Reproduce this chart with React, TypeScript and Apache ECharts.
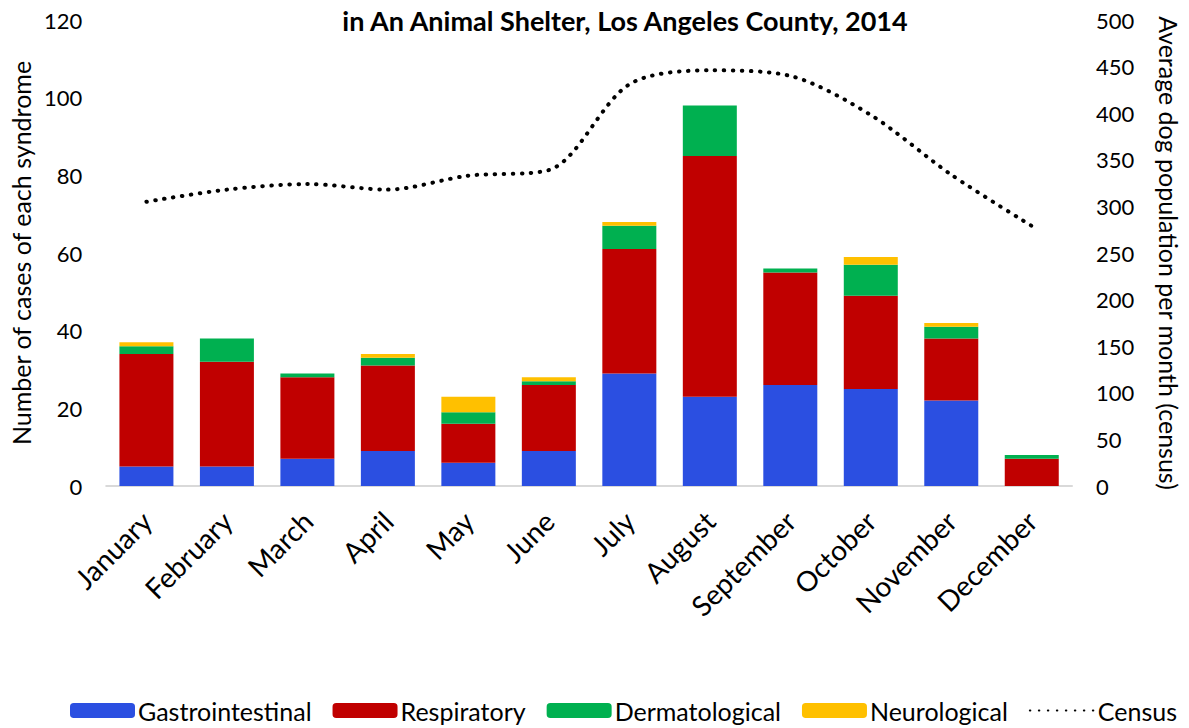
import React, { useEffect, useRef } from "react";
import * as echarts from "echarts";

const months = ["January", "February", "March", "April", "May", "June", "July", "August", "September", "October", "November", "December"];
const gastro = [5, 5, 7, 9, 6, 9, 29, 23, 26, 25, 22, 0];
const respiratory = [29, 27, 21, 22, 10, 17, 32, 62, 29, 24, 16, 7];
const dermatological = [2, 6, 1, 2, 3, 1, 6, 13, 1, 8, 3, 1];
const neurological = [1, 0, 0, 1, 4, 1, 1, 0, 0, 2, 1, 0];
const census = [305, 318, 324, 318, 333, 339, 431, 446, 440, 398, 334, 279];

const FONT = "Lato, 'Open Sans', sans-serif";

export default function App() {
  const ref = useRef<HTMLDivElement>(null);
  useEffect(() => {
    if (!ref.current) return;
    const chart = echarts.init(ref.current, undefined, { renderer: "svg" });
    const barSeries = (name: string, data: number[], color: string) => ({
      name,
      type: "bar",
      stack: "cases",
      data,
      barWidth: 54,
      itemStyle: { color },
      yAxisIndex: 0,
    });
    chart.setOption({
      animation: false,
      textStyle: { fontFamily: FONT },
      title: {
        text: "in An Animal Shelter, Los Angeles County, 2014",
        left: 620,
        textAlign: "center",
        top: 2,
        textStyle: { fontFamily: FONT, fontSize: 27, fontWeight: "bold", color: "#000" },
      },
      grid: { left: 95, right: 114, top: 20, bottom: 242, containLabel: false },
      legend: {
        left: 70,
        top: 698,
        padding: 0,
        itemWidth: 65,
        itemHeight: 15,
        itemGap: 21,
        textStyle: { fontFamily: FONT, fontSize: 25, color: "#000", padding: [0, 0, 0, -2] },
        data: [
          "Gastrointestinal",
          "Respiratory",
          "Dermatological",
          "Neurological",
          { name: "Census", itemStyle: { opacity: 0 } },
        ],
      },
      xAxis: {
        type: "category",
        data: months,
        axisLine: { show: true, lineStyle: { color: "#d9d9d9", width: 2 } },
        axisTick: { show: false },
        axisLabel: { rotate: 45, fontSize: 28, color: "#000", fontFamily: FONT, margin: 30, interval: 0 },
      },
      yAxis: [
        {
          type: "value",
          min: 0,
          max: 120,
          interval: 20,
          name: "Number of cases of each syndrome",
          nameLocation: "middle",
          nameGap: 66,
          nameTextStyle: { fontSize: 25, color: "#000", fontFamily: FONT },
          axisLine: { show: false },
          axisTick: { show: false },
          splitLine: { show: false },
          axisLabel: { fontSize: 22, color: "#000", fontFamily: FONT, margin: 24 },
        },
        {
          type: "value",
          min: 0,
          max: 500,
          interval: 50,
          position: "right",
          name: "Average dog population per month (census)",
          nameLocation: "middle",
          nameRotate: -90,
          nameGap: 84,
          nameTextStyle: { fontSize: 25, color: "#000", fontFamily: FONT },
          axisLine: { show: false },
          axisTick: { show: false },
          splitLine: { show: false },
          axisLabel: { fontSize: 22, color: "#000", fontFamily: FONT, margin: 24 },
        },
      ],
      series: [
        barSeries("Gastrointestinal", gastro, "#2b4fe1"),
        barSeries("Respiratory", respiratory, "#c00000"),
        barSeries("Dermatological", dermatological, "#00b050"),
        barSeries("Neurological", neurological, "#ffc000"),
        {
          name: "Census",
          type: "line",
          yAxisIndex: 1,
          data: census,
          smooth: 0.3,
          symbol: "none",
          lineStyle: { color: "#000", width: 4, type: [0.5, 8.5], cap: "round" },
          itemStyle: { color: "#000" },
        },
      ],
    });
    return () => chart.dispose();
  }, []);
  return <div ref={ref} style={{ width: 1189, height: 728, position: "absolute", left: 0, top: 0 }} />;
}
